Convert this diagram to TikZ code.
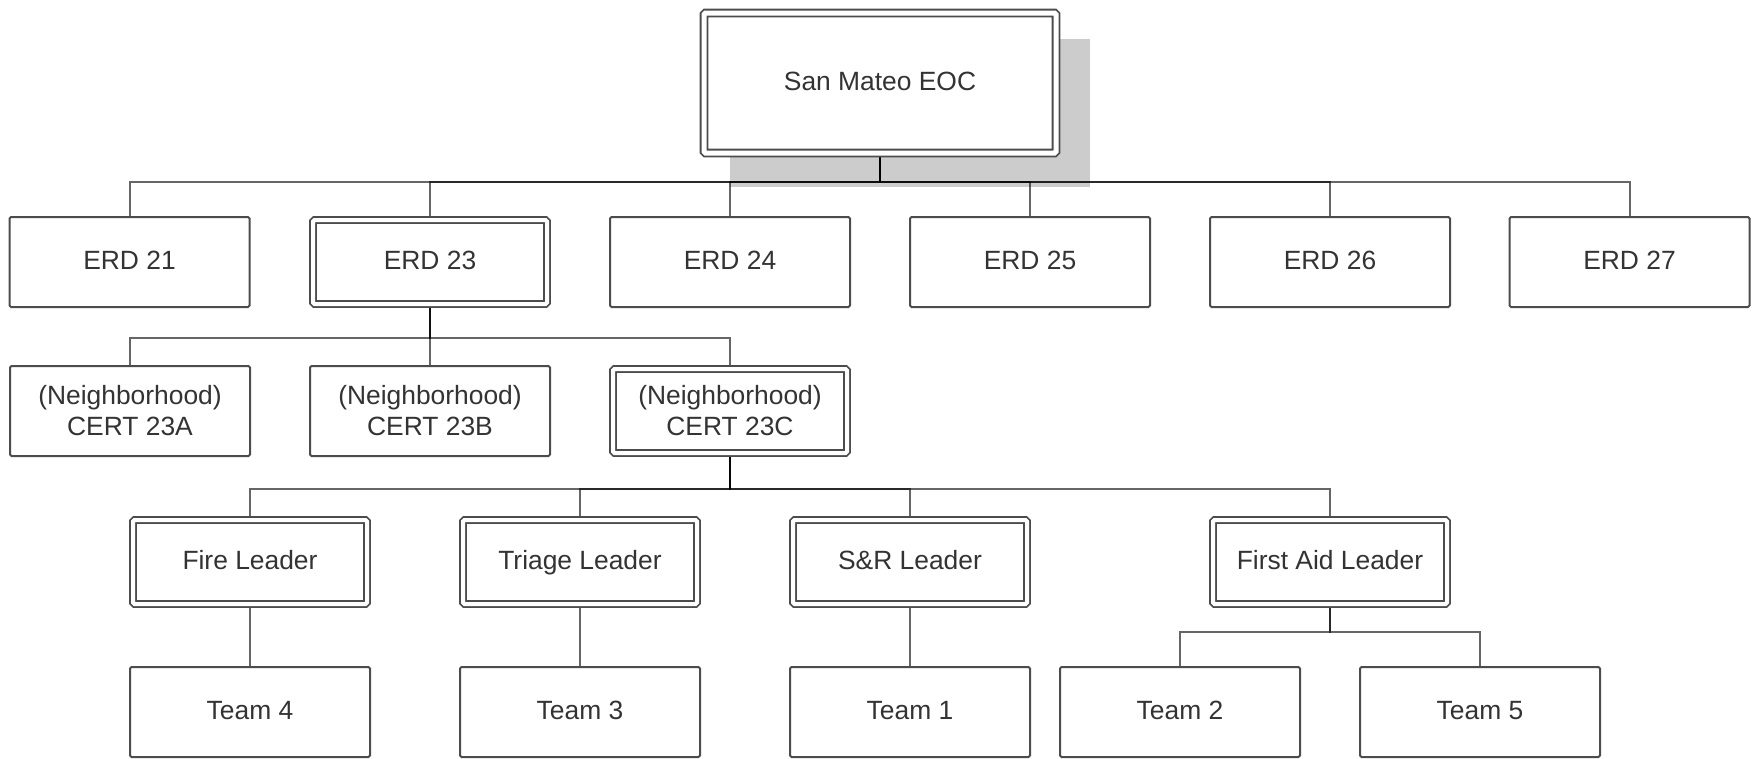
\documentclass[tikz,border=0pt]{standalone}
\usepackage{fontspec}
\setmainfont{Liberation Sans}
\usetikzlibrary{backgrounds}
\begin{document}
\begin{tikzpicture}[x=1pt,y=-1pt,
  box/.style={draw=black!70, line width=2pt, fill=white, rounded corners=1.5pt,
    minimum width=240pt, minimum height=90pt, inner sep=0pt, align=center,
    text=black!80, font=\fontsize{26.4}{31}\selectfont},
  dbox/.style={box, double=white, double distance=4pt, line width=1.8pt,
    minimum width=234pt, minimum height=84pt},
  oneline/.style={text height=19pt, text depth=3.5pt},
  sbox/.style={box, oneline},
  sdbox/.style={dbox, oneline},
  conn/.style={draw=black, line width=2pt, opacity=0.6},
  shadowfill/.style={fill=black!20}]
\useasboundingbox (0,0) rectangle (1757,758);
\coordinate (y1) at (0,182);
\coordinate (y2) at (0,338);
\coordinate (y3) at (0,489);
\coordinate (y4) at (0,632);
% level 0
\node[sdbox, double distance=5pt, minimum width=352pt, minimum height=140pt] (eoc) at (880,83) {San Mateo EOC};
% level 1
\node[sbox]  (erd21) at (129.5,262) {ERD 21};
\node[sdbox] (erd23) at (430,262) {ERD 23};
\node[sbox]  (erd24) at (730,262) {ERD 24};
\node[sbox]  (erd25) at (1030,262) {ERD 25};
\node[sbox]  (erd26) at (1330,262) {ERD 26};
\node[sbox]  (erd27) at (1629.5,262) {ERD 27};
% level 2
\node[box]  (c23a) at (130,411) {(Neighborhood)\\CERT 23A};
\node[box]  (c23b) at (430,411) {(Neighborhood)\\CERT 23B};
\node[dbox] (c23c) at (730,411) {(Neighborhood)\\CERT 23C};
% level 3
\node[sdbox] (fire)   at (250,562) {Fire Leader};
\node[sdbox] (triage) at (580,562) {Triage Leader};
\node[sdbox] (sr)     at (910,562) {S\&R Leader};
\node[sdbox] (aid)    at (1330,562) {First Aid Leader};
% level 4
\node[sbox] (team4) at (250,712) {Team 4};
\node[sbox] (team3) at (580,712) {Team 3};
\node[sbox] (team1) at (910,712) {Team 1};
\node[sbox] (team2) at (1180,712) {Team 2};
\node[sbox] (team5) at (1480,712) {Team 5};
\begin{scope}[on background layer]
  \fill[shadowfill] ([shift={(27,27)}]eoc.north west) rectangle ([shift={(33,33)}]eoc.south east);
  \foreach \c in {erd21,erd23,erd24,erd25,erd26,erd27}
    \draw[conn] (eoc.south) -- (eoc.south |- y1) -| (\c.north);
  \foreach \c in {c23a,c23b,c23c}
    \draw[conn] (erd23.south) -- (erd23.south |- y2) -| (\c.north);
  \foreach \c in {fire,triage,sr,aid}
    \draw[conn] (c23c.south) -- (c23c.south |- y3) -| (\c.north);
  \draw[conn] (fire.south) -- (team4.north);
  \draw[conn] (triage.south) -- (team3.north);
  \draw[conn] (sr.south) -- (team1.north);
  \foreach \c in {team2,team5}
    \draw[conn] (aid.south) -- (aid.south |- y4) -| (\c.north);
\end{scope}
\end{tikzpicture}
\end{document}
